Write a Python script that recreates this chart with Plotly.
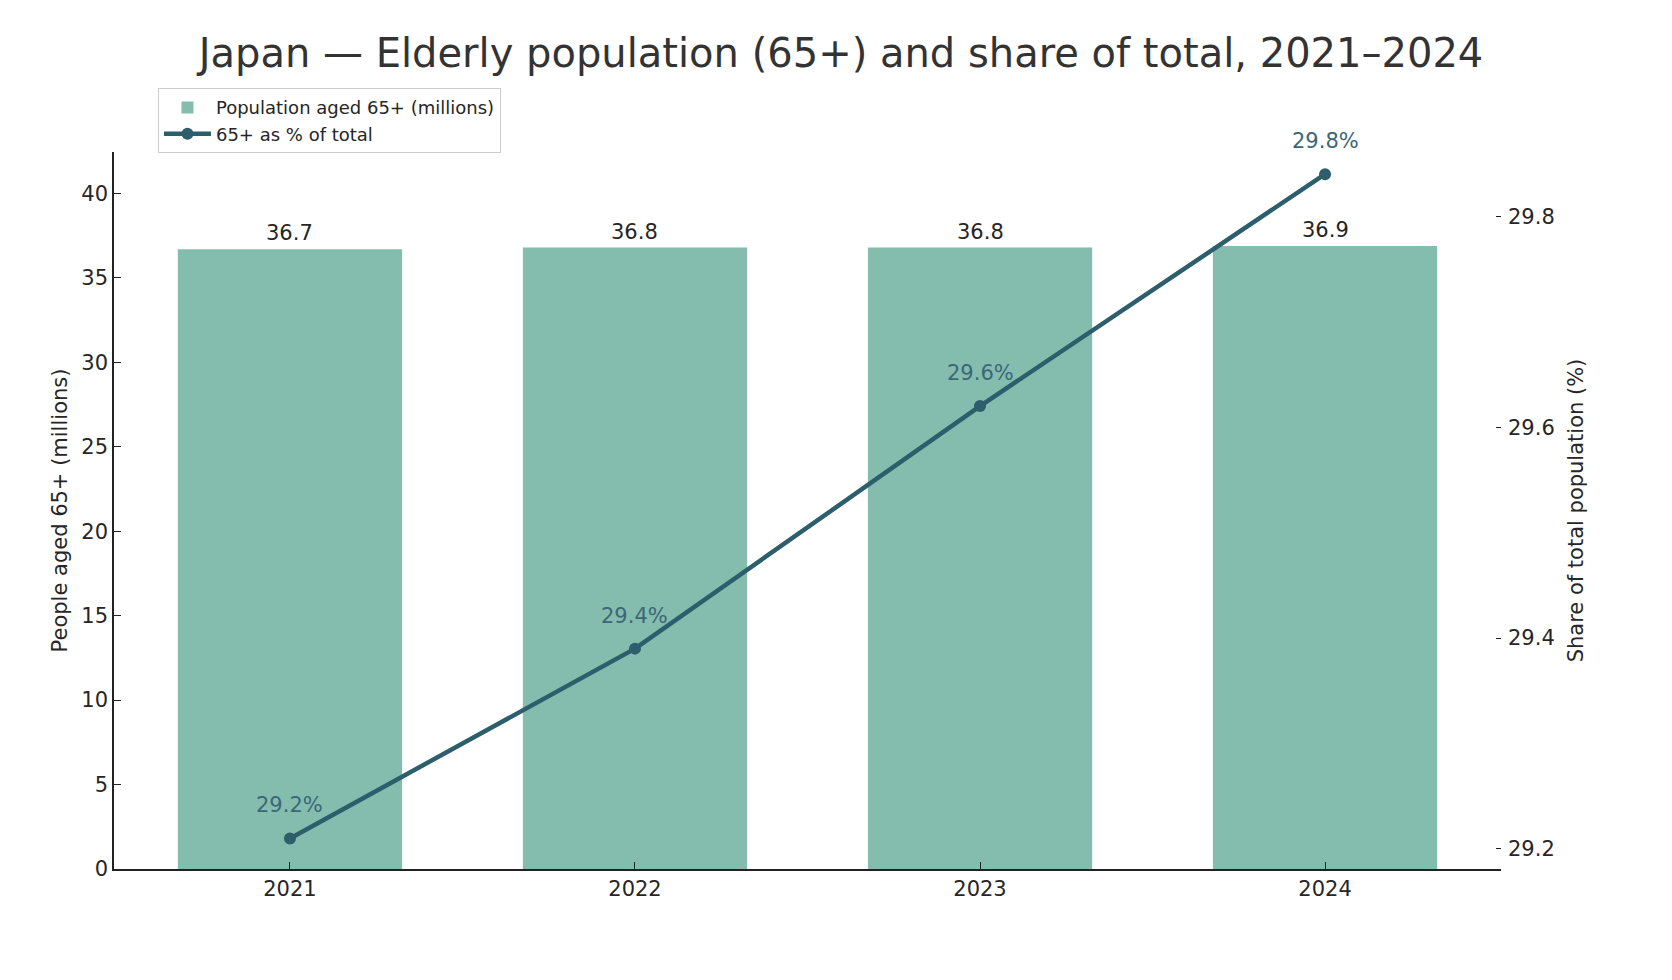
import plotly.graph_objects as go

years = ["2021", "2022", "2023", "2024"]
pop_65_millions = [36.7, 36.8, 36.8, 36.9]
share_pct = [29.21, 29.39, 29.62, 29.84]
bar_labels = ["36.7", "36.8", "36.8", "36.9"]
share_labels = ["29.2%", "29.4%", "29.6%", "29.8%"]
left_ticks = [0, 5, 10, 15, 20, 25, 30, 35, 40]
right_ticks = [29.2, 29.4, 29.6, 29.8]

BAR = "#84BDAD"
LINE = "#2C5E6C"
FONT = "DejaVu Sans"
TXT = "#262626"

fig = go.Figure()
fig.add_trace(go.Bar(
    x=years, y=pop_65_millions, name="Population aged 65+ (millions)",
    marker=dict(color=BAR, line=dict(width=0)), width=0.65, yaxis="y",
))
fig.add_trace(go.Scatter(
    x=years, y=share_pct, name="65+ as % of total", mode="lines+markers",
    line=dict(color=LINE, width=4.5), marker=dict(color=LINE, size=12),
    yaxis="y2",
))

annotations = []
for i, (v, t) in enumerate(zip(pop_65_millions, bar_labels)):
    annotations.append(dict(x=i, y=v, xref="x", yref="y", text=t, showarrow=False,
                            xanchor="center", yanchor="middle", yshift=16,
                            font=dict(family=FONT, size=21, color=TXT)))
for i, (v, t) in enumerate(zip(share_pct, share_labels)):
    annotations.append(dict(x=i, y=v, xref="x", yref="y2", text=t, showarrow=False,
                            xanchor="center", yanchor="middle", yshift=33,
                            font=dict(family=FONT, size=21, color="#3B6878")))

fig.update_layout(
    width=1672, height=980,
    margin=dict(l=114, r=171, t=152, b=111),
    paper_bgcolor="white", plot_bgcolor="white",
    font=dict(family=FONT, size=21, color=TXT),
    title=dict(text="Japan — Elderly population (65+) and share of total, 2021–2024",
               x=0.503, xref="container", xanchor="center",
               y=1 - 53 / 980, yref="container", yanchor="middle",
               font=dict(family=FONT, size=40, color="#333333")),
    xaxis=dict(type="category", range=[-0.51, 3.51], showline=True, linecolor="#222222",
               linewidth=1.5, ticks="inside", ticklen=7, tickcolor="#222222",
               showgrid=False, zeroline=False, tickfont=dict(size=21)),
    yaxis=dict(range=[0, 42.46], tickvals=left_ticks, showline=True, linecolor="#222222",
               linewidth=1.5, ticks="inside", ticklen=7, tickcolor="#222222",
               showgrid=False, zeroline=False, tickfont=dict(size=21),
               title=dict(text="People aged 65+ (millions)", font=dict(size=21), standoff=8)),
    yaxis2=dict(range=[29.181, 29.861], tickvals=right_ticks, ticktext=[f"{t:.1f}" for t in right_ticks],
                overlaying="y", side="right", showline=False, ticks="inside", ticklen=5,
                tickcolor="#222222", showgrid=False, zeroline=False, tickfont=dict(size=21),
                ticklabelstandoff=6,
                title=dict(text="Share of total population (%)", font=dict(size=21), standoff=14)),
    legend=dict(x=0.0317, y=1.089, xanchor="left", yanchor="top", bgcolor="white",
                bordercolor="#CCCCCC", borderwidth=1, font=dict(family=FONT, size=18, color=TXT),
                tracegroupgap=2, itemwidth=47),
    annotations=annotations,
    showlegend=True,
)

fig.write_html("out.html")
